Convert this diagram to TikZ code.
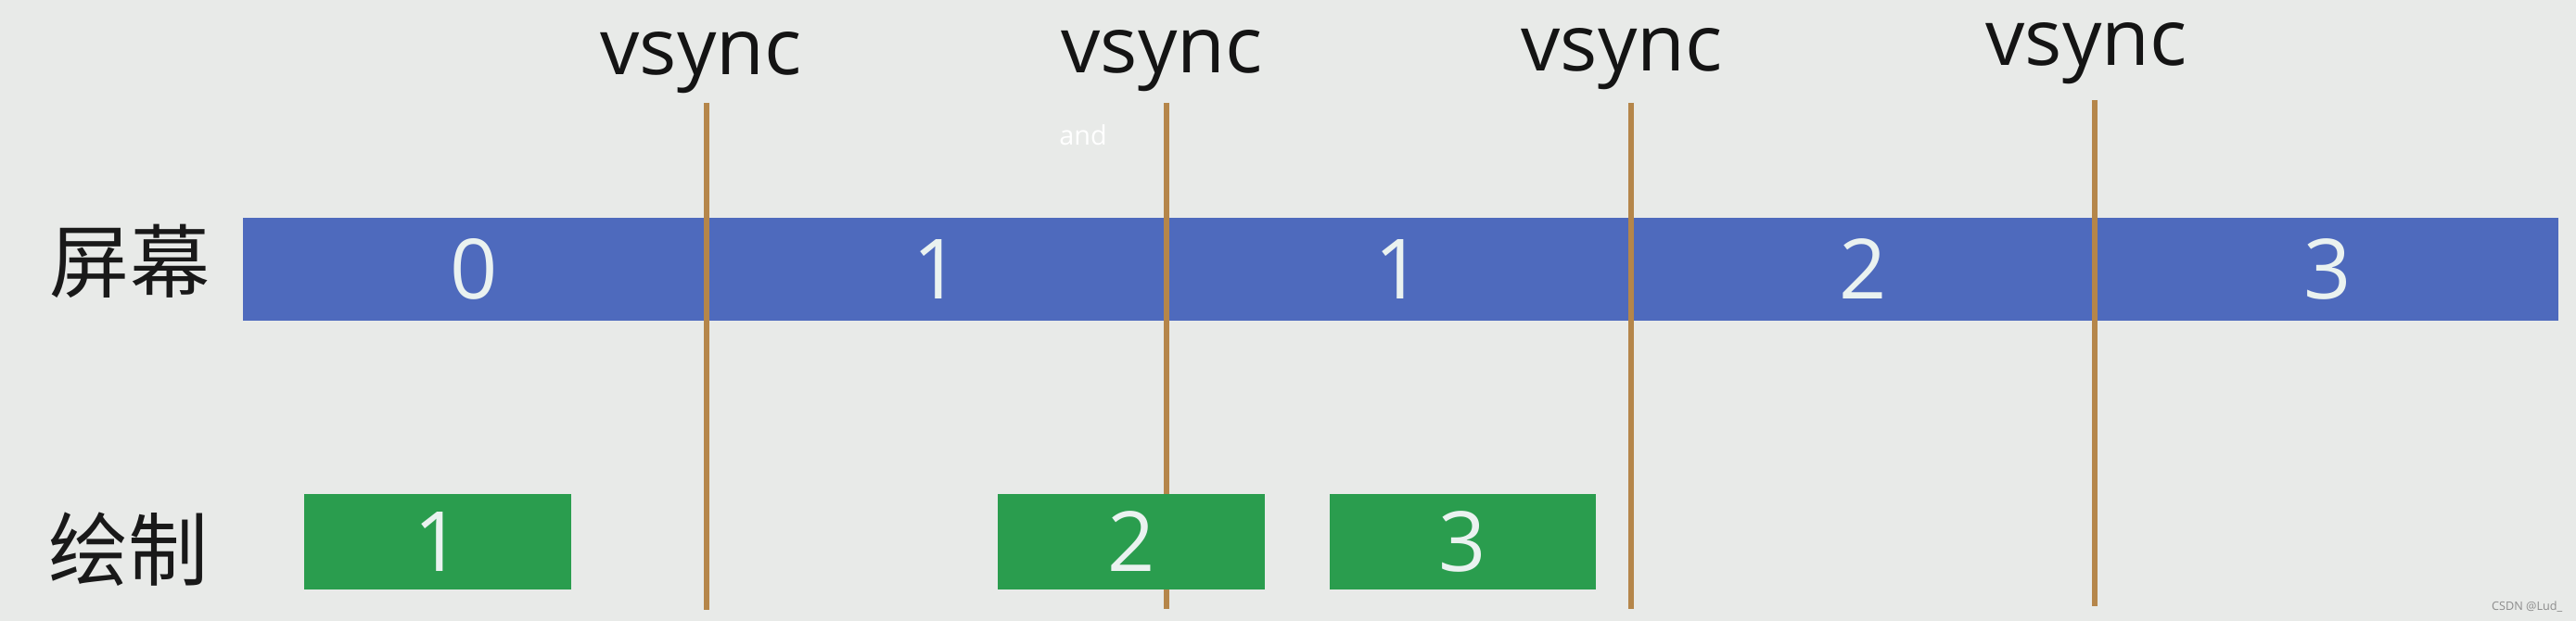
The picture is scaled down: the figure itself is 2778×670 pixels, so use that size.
\documentclass[tikz,border=0pt]{standalone}
\usepackage{fontspec}
\setmainfont{Open Sans}
\newfontfamily\cjk{Noto Sans CJK SC}
\definecolor{bg}{HTML}{E8EAE8}
\definecolor{barblue}{HTML}{4E6ABD}
\definecolor{drawgreen}{HTML}{2A9D4E}
\definecolor{vline}{HTML}{B5864A}
\definecolor{digit}{HTML}{EAF2F0}
\tikzset{
  seg/.style={fill=barblue, draw=none, inner sep=0pt, minimum height=111\pxu, text=digit, font=\fontsize{25.5}{26}\selectfont},
  gbox/.style={fill=drawgreen, draw=none, inner sep=0pt, minimum height=103\pxu, text=digit, font=\fontsize{25.5}{26}\selectfont},
  vlab/.style={anchor=base, inner sep=0pt, text=black!92, font=\fontsize{24}{25}\selectfont},
  rowlab/.style={inner sep=0pt, text=black!90, font=\cjk\fontsize{24.5}{25}\selectfont},
  vsyncline/.style={draw=vline, line width=6\pxu}
}
\newlength{\pxu}
\setlength{\pxu}{0.01cm}
\begin{document}
\begin{tikzpicture}[x=0.01cm, y=-0.01cm]
\fill[bg] (0,0) rectangle (2778,670);
\useasboundingbox (0,0) rectangle (2778,670);
% screen bar segments
\node[seg, minimum width=499\pxu] (s0) at (511,290.5) {0};
\node[seg, minimum width=494\pxu] (s1) at (1010,290.5) {1};
\node[seg, minimum width=499\pxu] (s2) at (1508,290.5) {1};
\node[seg, minimum width=498\pxu] (s3) at (2009,290.5) {2};
\node[seg, minimum width=498\pxu] (s4) at (2510,290.5) {3};
% vsync lines
\coordinate (t1) at (762,111); \coordinate (b1) at (762,658);
\coordinate (t2) at (1258,111); \coordinate (b2) at (1258,657);
\coordinate (t3) at (1759,111); \coordinate (b3) at (1759,657);
\coordinate (t4) at (2259,108); \coordinate (b4) at (2259,654);
\draw[vsyncline] (t1) -- (b1);
\draw[vsyncline] (t2) -- (b2);
\draw[vsyncline] (t3) -- (b3);
\draw[vsyncline] (t4) -- (b4);
% vsync labels
\node[vlab] (v1) at (756,81) {vsync};
\node[vlab] (v2) at (1253,79) {vsync};
\node[vlab] (v3) at (1749,77) {vsync};
\node[vlab] (v4) at (2250,70.5) {vsync};
% draw boxes
\node[gbox, minimum width=288\pxu] (g1) at (472,584.5) {1};
\node[gbox, minimum width=288\pxu] (g2) at (1220,584.5) {2};
\node[gbox, minimum width=287\pxu] (g3) at (1577.5,584.5) {3};
% row labels
\node[rowlab] (screen) at (140,282) {屏幕};
\node[rowlab] (paint) at (139,593) {绘制};
% small texts
\node[inner sep=0pt, text=white, font=\fontsize{8.2}{9}\selectfont] (and) at (1168,146) {and};
\node[inner sep=0pt, anchor=south east, text=black!45, font=\fontsize{3.6}{4}\selectfont] (wm) at (2764,661) {CSDN @Lud\_};
\end{tikzpicture}
\end{document}
